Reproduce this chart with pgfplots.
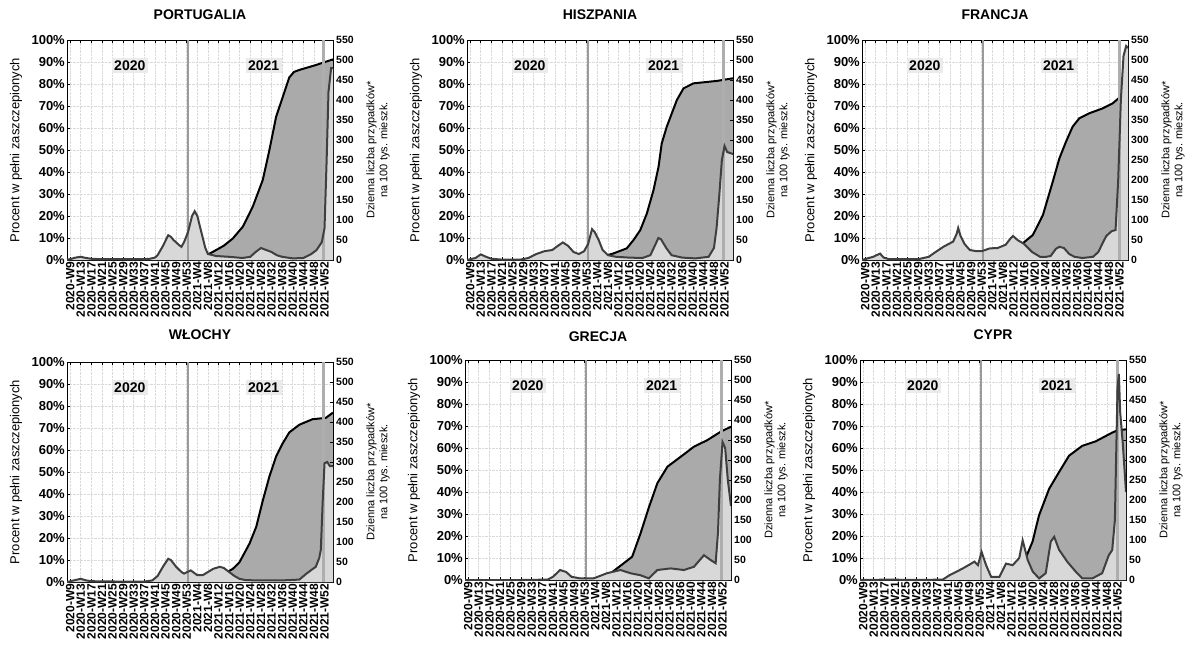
\documentclass[border=0pt]{standalone}
\usepackage{pgfplots}
\pgfplotsset{compat=1.18}
\usepackage{pgfplotstable}
\usepackage{fontspec}
\setmainfont{Liberation Sans}
\definecolor{vacfill}{HTML}{AAAAAA}
\definecolor{casefill}{HTML}{D8D8D8}
\definecolor{caseline}{HTML}{3F3F3F}
\definecolor{vlinec}{HTML}{9A9A9A}
\definecolor{yearbg}{HTML}{EBEBEB}

% ---------------- PORTUGALIA ----------------
\pgfplotstableread{
x y
46 0
48 0.8
51 2
54 3.8
58 6.5
61.4 9.8
65.2 15.2
68.9 24.2
72.7 36.4
75.2 50
77.7 65
80.2 74
82.7 83
84.5 85.5
86.5 86.4
92.7 88.6
99.2 91.2
}\vacPT
\pgfplotstableread{
x y
-1.2 1
0 2
2 6
4 8
6 5
8 3
12 2
20 2
27 2
30 3
32 6
33 12
35 35
37 62
38 58
39 50
41 38
42 33
43 45
44.5 70
46 110
47 122
48 110
49.5 70
51 30
52 15
55 10
60 8
65 5
68 8
70 20
72 30
74 25
76 20
78 12
80 8
84 4
88 5
91 15
93 25
95 45
96 80
96.8 250
97.5 420
98.5 480
99.2 480
}\casPT
% ---------------- HISZPANIA ----------------
\pgfplotstableread{
x y
46 0
47.8 0.8
54.1 3
59.1 5.3
61.6 9
64.2 13.6
66.7 21.2
69.2 31.8
71.1 42.4
72.3 53
74.2 60.6
78 72.7
80.5 78
84.3 80.3
93.1 81.4
99.2 82.6
}\vacES
\pgfplotstableread{
x y
-1.2 0
2 5
4 14
6 8
8 3
12 1
19 1
22 5
25 15
28 22
31 25
33 35
35 44
37 35
39 20
41 15
43 22
44.5 40
46 77
47 70
48.5 50
50 25
52 12
55 8
60 6
65 5
68 12
70 40
71 55
72 52
74 30
76 12
80 6
85 4
90 8
92 30
93 80
94 160
95 250
96 285
97 270
99.2 265
}\casES
% ---------------- FRANCJA ----------------
\pgfplotstableread{
x y
46 0
47 0.3
53.3 2.3
59.5 7.6
63.3 11.4
67.1 20.5
70.8 35.6
73.3 46.2
75.8 53.8
78.3 60.6
80.8 64.4
84.6 66.7
89.6 68.9
93.4 71.2
97.1 75
99.2 76.5
}\vacFR
\pgfplotstableread{
x y
-1.2 0
3 8
5.6 16
7 6
9 2
20 2
24 8
25.7 16
29.5 33
33.2 46
34.5 65
35.1 80
36 60
37.5 40
39.5 25
42 22
44 22
47 29
50 30
53 38
55 55
55.8 60
57.5 50
60 40
63 20
66 8
68.3 8
70 10
72 28
73.3 33
75 30
77 15
79 8
82 5
86 8
88 20
89.6 42
91 60
93 72
94.5 75
95.5 200
96.5 400
97.5 510
98.5 535
99.2 530
}\casFR
% ---------------- WLOCHY ----------------
\pgfplotstableread{
x y
46 0
48.9 0.3
55.1 1.5
61.4 6
63.9 9
67.7 17.5
70.2 25
72.7 37
75.2 48
77.7 57
80.2 63
82.7 68
86.5 71.5
91.5 74
96.5 74.6
99.2 77
}\vacIT
\pgfplotstableread{
x y
-1.2 0
2 5
4 8
6 4
8 2
20 1
28 1
31 4
33 15
35 38
37 58
38 55
40 38
42 25
43 21
45.5 29
48 17
50 17
52 25
54 33
56.5 38
58 35
60 25
62 15
63.9 8
66 5
70 4
80 4
86.5 6
89 20
91 30
92.7 38
94 60
94.6 80
95.3 200
96 297
97 300
98 290
99.2 290
}\casIT
% ---------------- GRECJA ----------------
\pgfplotstableread{
x y
46 0
50 1.5
53.7 3
58.7 7.6
61.9 10.6
65 21
68.2 33
71.4 44
75.2 51.5
80.2 56
85.2 60.6
90.3 63.6
95.3 67.4
99.2 69.7
}\vacGR
\pgfplotstableread{
x y
-1.2 0
20 0
30 1
32 8
34.7 25
37 20
39 8
42.3 4
47.3 4
52.4 17
57.5 25
61.2 17
65 12
68.2 4
71.4 25
76.4 29
81.4 25
85.2 33
89 62
91.5 50
93.4 42
94.3 120
95 250
96 345
97 330
98 250
99.2 185
}\casGR
% ---------------- CYPR ----------------
\pgfplotstableread{
x y
48 0
52 1
55 3
57.7 5.3
61 9
63.9 17.4
66.4 29.5
70.2 41.5
73.9 49
77.7 56.5
82.7 61
87.7 63
94 67
95.9 68
99.2 68.5
}\vacCY
\pgfplotstableread{
x y
-1.2 0
10 1
20 0
30 1
32.6 12
35 20
37.6 29
40 38
42 46
43.3 37
44.7 70
46.4 37
48.3 8
51.4 8
53.9 41
56.4 37
58.9 55
60.2 99
62.1 50
64 21
66.4 4
68.9 17
70.8 96
72.1 108
73.9 76
77 46
80.2 21
82.7 4
86.5 4
90.2 17
92.7 62
94 75
95 150
96 480
96.5 515
97 420
98 340
99.2 220
}\casCY

\pgfplotsset{
  leftax/.style={
    scale only axis, width=266pt, height=220pt, anchor=south west,
    xmin=-1.2, xmax=99.2, ymin=0, ymax=100,
    xtick={0,4,...,96},
    xticklabels={2020-W9,2020-W13,2020-W17,2020-W21,2020-W25,2020-W29,2020-W33,2020-W37,2020-W41,2020-W45,2020-W49,2020-W53,2021-W4,2021-W8,2021-W12,2021-W16,2021-W20,2021-W24,2021-W28,2021-W32,2021-W36,2021-W40,2021-W44,2021-W48,2021-W52},
    ytick={0,10,...,100},
    yticklabels={0\%,10\%,20\%,30\%,40\%,50\%,60\%,70\%,80\%,90\%,100\%},
    xtick pos=both, ytick pos=left, tick align=inside,
    grid=major,
    grid style={gray!30, densely dotted, line width=0.7pt},
    /pgf/number format/assume math mode=true,
    xticklabel style={rotate=90, anchor=east, font=\bfseries\fontsize{12}{12}\selectfont, inner sep=1.5pt},
    yticklabel style={font=\bfseries\fontsize{13}{13}\selectfont, inner sep=2pt},
    ylabel={Procent w pełni zaszczepionych},
    ylabel style={font=\fontsize{13}{13}\selectfont, yshift=4pt},
    axis line style={black, line width=0.9pt},
    tick style={black, line width=0.6pt}, major tick length=3pt,
  },
  rightax/.style={
    scale only axis, width=266pt, height=220pt, anchor=south west,
    xmin=-1.2, xmax=99.2, ymin=0, ymax=550,
    axis x line=none, axis y line*=right,
    ytick={0,50,...,550},
    yticklabels={0,50,100,150,200,250,300,350,400,450,500,550},
    /pgf/number format/assume math mode=true,
    yticklabel style={font=\bfseries\fontsize{10.5}{10.5}\selectfont, inner sep=3pt},
    ylabel={Dzienna liczba przypadków*\\na 100 tys. mieszk.},
    ylabel style={align=center, font=\fontsize{11}{13}\selectfont, yshift=-6pt},
    axis line style={black, line width=0.9pt},
    tick style={black, line width=0.6pt}, major tick length=3pt, tick align=inside,
  },
}
\tikzset{
  vline/.style={vlinec, line width=2.4pt},
  vlineb/.style={vlinec!80, line width=3pt},
  yearbox/.style={fill=yearbg, inner sep=2.5pt, font=\bfseries\fontsize{14}{14}\selectfont},
}

\newcommand{\panel}[6]{%
  \begin{axis}[leftax, at={(#1pt,-#2pt)}]
    \addplot[fill=vacfill, draw=none] table {#4} \closedcycle;
    \addplot[black, line width=2pt] table {#4};
  \end{axis}
  \begin{axis}[rightax, at={(#1pt,-#2pt)}]
    \addplot[fill=casefill, draw=none] table {#5} \closedcycle;
    \draw[vline] (axis cs:44.5,0) -- (axis cs:44.5,550);
    \draw[vlineb] (axis cs:95.8,0) -- (axis cs:95.8,550);
    \addplot[caseline, line width=2pt] table {#5};
    \node[yearbox] at (axis cs:22.5,487) {2020};
    \node[yearbox] at (axis cs:73,487) {2021};
  \end{axis}
  \node[font=\bfseries\fontsize{14}{14}\selectfont] at (#1pt+133pt,-#6pt) {#3};
}

\begin{document}
\begin{tikzpicture}
\path[use as bounding box] (0,0) rectangle (1194pt,-645pt);
\panel{67}{260}{PORTUGALIA}{\vacPT}{\casPT}{15}
\panel{467}{260}{HISZPANIA}{\vacES}{\casES}{15}
\panel{862}{260}{FRANCJA}{\vacFR}{\casFR}{15}
\panel{67}{582}{WŁOCHY}{\vacIT}{\casIT}{335}
\panel{465}{580}{GRECJA}{\vacGR}{\casGR}{337}
\panel{860}{580}{CYPR}{\vacCY}{\casCY}{335}
\end{tikzpicture}
\end{document}
